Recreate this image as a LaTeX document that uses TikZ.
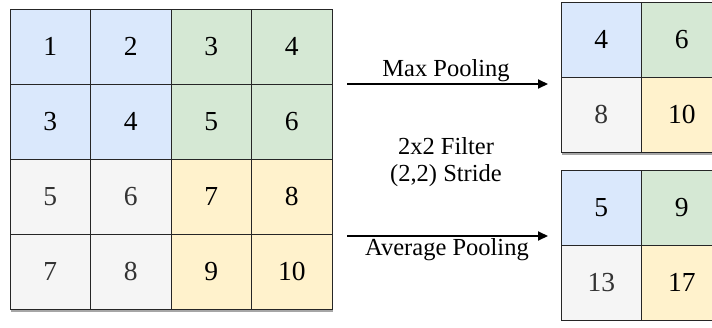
\documentclass[tikz,border=0pt]{standalone}
\usepackage{fontspec}
\setmainfont{Liberation Serif}
\usetikzlibrary{arrows.meta}
\definecolor{cblue}{HTML}{DAE8FC}
\definecolor{cgreen}{HTML}{D5E8D4}
\definecolor{cgray}{HTML}{F5F5F5}
\definecolor{cyellow}{HTML}{FFF2CC}
\definecolor{tgray}{HTML}{333333}
\tikzset{
  cell/.style={draw=black!85, line width=0.8pt, minimum width=80.5pt, minimum height=75pt, inner sep=0pt, outer sep=0pt,
    font=\fontsize{27.5}{28}\selectfont, anchor=north west},
  blue/.style={cell, fill=cblue},
  green/.style={cell, fill=cgreen},
  gray/.style={cell, fill=cgray, text=tgray},
  yellow/.style={cell, fill=cyellow},
  lbl/.style={font=\fontsize{24.5}{26}\selectfont, inner sep=0pt},
  arr/.style={line width=2pt, -{Triangle[length=10pt,width=9pt]}}
}
\begin{document}
\begin{tikzpicture}[x=1pt,y=-1pt]
\useasboundingbox (0,0) rectangle (712,327);
% shadows
\fill[black!35] (11,309) rectangle (333,311.5);
\fill[black!35] (562,152) rectangle (722,154.5);
% left grid
\node[blue]   (a11) at (10,9)    {1};
\node[blue]   (a12) at (90.5,9)  {2};
\node[green]  (a13) at (171,9)   {3};
\node[green]  (a14) at (251.5,9) {4};
\node[blue]   (a21) at (10,84)    {3};
\node[blue]   (a22) at (90.5,84)  {4};
\node[green]  (a23) at (171,84)   {5};
\node[green]  (a24) at (251.5,84) {6};
\node[gray]   (a31) at (10,159)    {5};
\node[gray]   (a32) at (90.5,159)  {6};
\node[yellow] (a33) at (171,159)   {7};
\node[yellow] (a34) at (251.5,159) {8};
\node[gray]   (a41) at (10,234)    {7};
\node[gray]   (a42) at (90.5,234)  {8};
\node[yellow] (a43) at (171,234)   {9};
\node[yellow] (a44) at (251.5,234) {10};
% max pooled grid
\node[blue]   (m11) at (561,2)    {4};
\node[green]  (m12) at (641.5,2)  {6};
\node[gray]   (m21) at (561,77)   {8};
\node[yellow] (m22) at (641.5,77) {10};
% average pooled grid
\node[blue]   (v11) at (561,170)    {5};
\node[green]  (v12) at (641.5,170)  {9};
\node[gray]   (v21) at (561,245)    {13};
\node[yellow] (v22) at (641.5,245)  {17};
% arrows
\coordinate (s1) at (347,84);
\coordinate (e1) at (548,84);
\coordinate (s2) at (347,236);
\coordinate (e2) at (548,236);
\draw[arr] (s1) -- (e1);
\draw[arr] (s2) -- (e2);
\node[lbl, anchor=base] (t1) at (446,76) {Max Pooling};
\node[lbl] (t2) at (446,146) {2x2 Filter};
\node[lbl] (t3) at (446,176) {(2,2) Stride};
\node[lbl] (t4) at (447,250) {Average Pooling};
\end{tikzpicture}
\end{document}
